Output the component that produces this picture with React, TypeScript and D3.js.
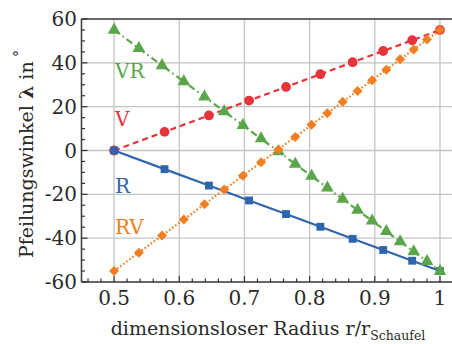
import React, { useEffect, useState } from "react";
import * as d3 from "d3";

// radial stations
const rCoarse = [0.5, 0.5774, 0.6455, 0.7071, 0.7638, 0.8165, 0.866, 0.9129, 0.9574, 1.0];
const rFine = [
  0.5, 0.538, 0.5735, 0.607, 0.6387, 0.6689, 0.6977, 0.7255, 0.7522, 0.778,
  0.803, 0.8272, 0.8507, 0.8736, 0.8959, 0.9177, 0.9389, 0.9597, 0.9801, 1.0,
];

const valV = [0, 8.5, 16.0, 22.8, 29.0, 34.8, 40.3, 45.4, 50.3, 55];
const valR = [0, -8.5, -16.0, -22.8, -29.0, -34.8, -40.3, -45.4, -50.3, -55];
const valVR = [
  55, 46.6, 38.8, 31.5, 24.5, 17.8, 11.5, 5.4, -0.5, -6.2,
  -11.7, -17.0, -22.2, -27.2, -32.1, -36.9, -41.6, -46.1, -50.6, -55,
];
const valRV = [
  -55, -46.6, -38.8, -31.5, -24.5, -17.8, -11.5, -5.4, 0.5, 6.2,
  11.7, 17.0, 22.2, 27.2, 32.1, 36.9, 41.6, 46.1, 50.6, 55,
];

const xTicks = [0.5, 0.6, 0.7, 0.8, 0.9, 1];
const xTickLabels = ["0.5", "0.6", "0.7", "0.8", "0.9", "1"];
const yTicks = [-60, -40, -20, 0, 20, 40, 60];
const yTickLabels = ["-60", "-40", "-20", "0", "20", "40", "60"];

const width = 452;
const height = 344;
const font = '"DejaVu Serif", serif';

const x = d3.scaleLinear().domain([0.45, 1.02]).range([81.5, 453]);
const y = d3.scaleLinear().domain([-60, 60]).range([282, 19]);

const series = [
  { name: "V", xs: rCoarse, ys: valV, color: "#e8333b", dash: "6,4", symbol: d3.symbolCircle, size: 75, rot: 0, label: [115, 126] },
  { name: "R", xs: rCoarse, ys: valR, color: "#2f65ad", dash: "none", symbol: d3.symbolSquare, size: 62, rot: 0, label: [115, 193] },
  { name: "VR", xs: rFine, ys: valVR, color: "#5ba64b", dash: "7,3.5,1.5,3.5", symbol: d3.symbolTriangle, size: 70, rot: 0, label: [115, 78] },
  { name: "RV", xs: rFine, ys: valRV, color: "#f37e22", dash: "1.6,2.2", symbol: d3.symbolSquare, size: 50, rot: 45, label: [115, 234] },
];

const App = () => {
  const [ready, setReady] = useState(0);
  useEffect(() => {
    // make sure the serif face is matched before the final paint
    if (document.fonts && document.fonts.load) {
      document.fonts.load('20px "DejaVu Serif"').then(() => setReady(1)).catch(() => setReady(1));
    }
  }, []);

  const line = d3.line<[number, number]>().x(d => x(d[0])).y(d => y(d[1]));
  const xMinor = d3.range(0.46, 1.02, 0.02);
  const yMinor = d3.range(-55, 60, 5);

  return (
    <svg key={ready} width={width} height={height} style={{ position: "absolute", left: 0, top: 0, fontFamily: font }}>
      <rect width={width} height={height} fill="#fff" />
      {/* grid */}
      <g stroke="#c4c4c4" strokeWidth={1.3}>
        {xTicks.map(t => (
          <line key={"gx" + t} x1={x(t)} x2={x(t)} y1={y(60)} y2={y(-60)} />
        ))}
        {yTicks.map(t => (
          <line key={"gy" + t} x1={x(0.45)} x2={width} y1={y(t)} y2={y(t)} />
        ))}
      </g>
      {/* series */}
      {series.map(s => {
        const pts: [number, number][] = s.xs.map((v, i) => [v, s.ys[i]]);
        const sym = d3.symbol().type(s.symbol).size(s.size)();
        return (
          <g key={s.name}>
            <path d={line(pts) || ""} fill="none" stroke={s.color} strokeWidth={2.2} strokeDasharray={s.dash} />
            {pts.map((p, i) => (
              <path
                key={i}
                d={sym || ""}
                fill={s.color}
                transform={`translate(${x(p[0])},${y(p[1])}) rotate(${s.rot})`}
              />
            ))}
            <text x={s.label[0]} y={s.label[1]} fill={s.color} fontSize={20} fontFamily={font}>
              {s.name}
            </text>
          </g>
        );
      })}
      {/* spines */}
      <g stroke="#444" strokeWidth={1.6} fill="none">
        <line x1={x(0.45)} x2={width} y1={y(60)} y2={y(60)} />
        <line x1={x(0.45)} x2={width} y1={y(-60)} y2={y(-60)} />
        <line x1={x(0.45)} x2={x(0.45)} y1={y(60)} y2={y(-60)} />
      </g>
      {/* ticks */}
      <g stroke="#333" strokeWidth={1.2}>
        {yTicks.map(t => (
          <line key={"ty" + t} x1={x(0.45)} x2={x(0.45) + 6} y1={y(t)} y2={y(t)} />
        ))}
        {yMinor.filter(t => t % 20 !== 0).map(t => (
          <line key={"my" + t} x1={x(0.45)} x2={x(0.45) + 3.5} y1={y(t)} y2={y(t)} />
        ))}
        {xTicks.map(t => (
          <line key={"tx" + t} x1={x(t)} x2={x(t)} y1={y(-60)} y2={y(-60) - 6} />
        ))}
        {xMinor.filter(t => Math.abs(t * 10 - Math.round(t * 10)) > 0.01).map(t => (
          <line key={"mx" + t} x1={x(t)} x2={x(t)} y1={y(-60)} y2={y(-60) - 3.5} />
        ))}
      </g>
      {/* tick labels */}
      <g fontSize={20} fill="#2a2a2a" fontFamily={font}>
        {yTicks.map((t, i) => (
          <text key={"ly" + t} x={77} y={y(t) + 7} textAnchor="end">
            {yTickLabels[i]}
          </text>
        ))}
        {xTicks.map((t, i) => (
          <text key={"lx" + t} x={x(t)} y={305} textAnchor="middle">
            {xTickLabels[i]}
          </text>
        ))}
      </g>
      {/* axis labels */}
      <text x={268} y={335} textAnchor="middle" fontSize={19} fill="#2a2a2a" fontFamily={font}>
        dimensionsloser Radius r/r
        <tspan fontSize={12.5} dy={5}>Schaufel</tspan>
      </text>
      <text transform={`translate(33,${154}) rotate(-90)`} textAnchor="middle" fontSize={19} fill="#2a2a2a" fontFamily={font}>
        Pfeilungswinkel <tspan fontWeight="bold">λ</tspan> in
        <tspan fontSize={14} dy={-9}> °</tspan>
      </text>
    </svg>
  );
};

export default App;
